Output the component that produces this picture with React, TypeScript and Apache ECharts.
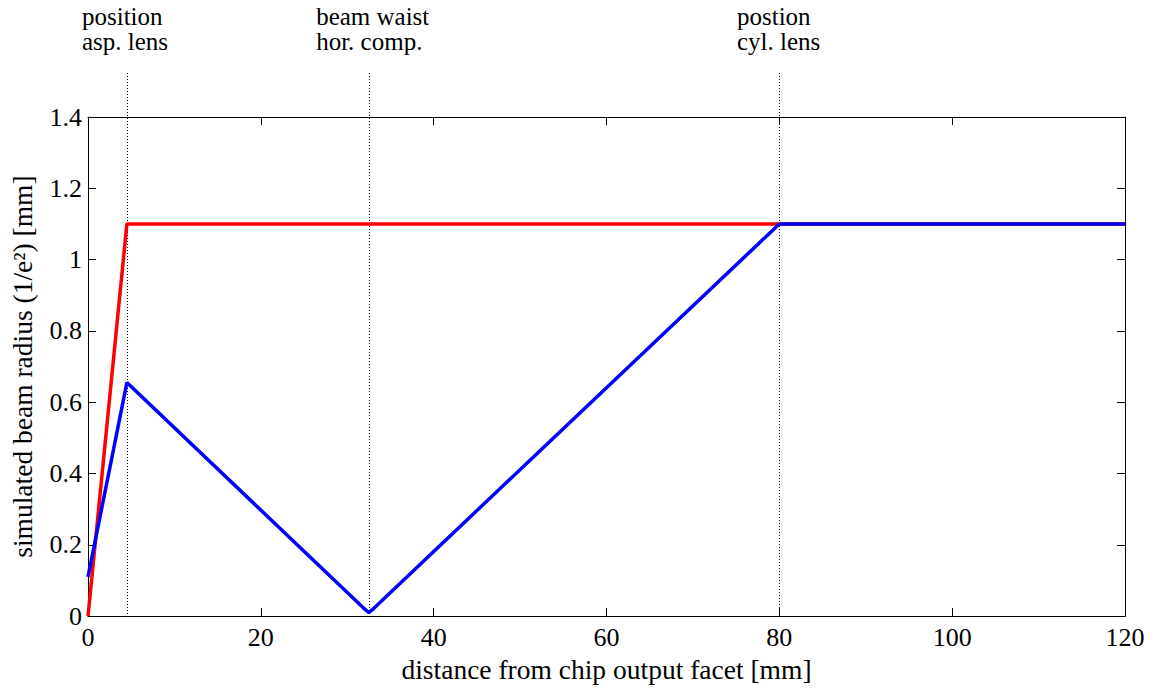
import React, { useEffect, useRef } from "react";
import * as echarts from "echarts";

// Data (mm, mm)
const redBeam: [number, number][] = [
  [0, 0],
  [4.5, 1.1],
  [80, 1.1],
  [120, 1.1],
];
const blueBeam: [number, number][] = [
  [0, 0.11],
  [4.5, 0.655],
  [32.1, 0.018],
  [32.5, 0.01],
  [32.9, 0.018],
  [80, 1.1],
  [120, 1.1],
];
const markerX = [4.5, 32.5, 80];
const markerLabels = [
  ["position", "asp. lens"],
  ["beam waist", "hor. comp."],
  ["postion", "cyl. lens"],
];
const markerLabelX = [-0.7, 26.4, 75.1];
const xName = "distance from chip output facet [mm]";
const yName = "simulated beam radius (1/e\u00B2) [mm]";

const FONT = "Liberation Serif, Times New Roman, serif";

export default function App() {
  const ref = useRef<HTMLDivElement>(null);
  useEffect(() => {
    if (!ref.current) return;
    const chart = echarts.init(ref.current, undefined, { renderer: "svg" });
    const axisCommon = {
      type: "value" as const,
      axisLine: { show: true, onZero: false, lineStyle: { color: "#000", width: 1 } },
      axisTick: { show: true, inside: true, length: 8, lineStyle: { color: "#000", width: 1 } },
      splitLine: { show: false },
    };
    chart.setOption({
      animation: false,
      backgroundColor: "#fff",
      textStyle: { fontFamily: FONT },
      grid: { left: 88, right: 34, top: 117, bottom: 65, containLabel: false },
      xAxis: [
        {
          ...axisCommon,
          min: 0,
          max: 120,
          interval: 20,
          position: "bottom",
          name: xName,
          nameLocation: "middle",
          nameGap: 33,
          nameTextStyle: { fontFamily: FONT, fontSize: 27.5, color: "#000" },
          axisLabel: { fontFamily: FONT, fontSize: 26, color: "#000", margin: 8 },
        },
        {
          ...axisCommon,
          min: 0,
          max: 120,
          interval: 20,
          position: "top",
          axisLabel: { show: false },
        },
      ],
      yAxis: [
        {
          ...axisCommon,
          min: 0,
          max: 1.4,
          interval: 0.2,
          position: "left",
          name: yName,
          nameLocation: "middle",
          nameGap: 52,
          nameTextStyle: { fontFamily: FONT, fontSize: 27.5, color: "#000" },
          axisLabel: { fontFamily: FONT, fontSize: 26, color: "#000", margin: 6 },
        },
        {
          ...axisCommon,
          min: 0,
          max: 1.4,
          interval: 0.2,
          position: "right",
          axisLabel: { show: false },
        },
      ],
      series: [
        {
          type: "line",
          data: redBeam,
          showSymbol: false,
          symbol: "none",
          lineStyle: { color: "#ff0000", width: 3.5 },
          xAxisIndex: 0,
          yAxisIndex: 0,
          z: 2,
        },
        {
          type: "line",
          data: blueBeam,
          showSymbol: false,
          symbol: "none",
          lineStyle: { color: "#0000ff", width: 3.5 },
          xAxisIndex: 0,
          yAxisIndex: 0,
          z: 3,
        },
      ],
    });

    const y0 = chart.convertToPixel({ yAxisIndex: 0 }, 0) as number;
    const yTop = (chart.convertToPixel({ yAxisIndex: 0 }, 1.4) as number) - 44;
    const graphics: any[] = [];
    markerX.forEach((mx, i) => {
      const px = Math.round(chart.convertToPixel({ xAxisIndex: 0 }, mx) as number) + 0.5;
      graphics.push({
        type: "line",
        shape: { x1: px, y1: yTop, x2: px, y2: y0 },
        style: { stroke: "#000", lineWidth: 1, lineDash: [1, 2] },
        z: 1,
      });
      const tx = chart.convertToPixel({ xAxisIndex: 0 }, markerLabelX[i]) as number;
      markerLabels[i].forEach((line, j) => {
        graphics.push({
          type: "text",
          x: tx,
          y: 4 + j * 25,
          style: {
            text: line,
            fontFamily: FONT,
            fontSize: 25,
            lineHeight: 25,
            fill: "#000",
            textAlign: "left",
            textVerticalAlign: "top",
          },
        });
      });
    });
    chart.setOption({ graphic: graphics });

    return () => chart.dispose();
  }, []);
  return (
    <div
      ref={ref}
      style={{ position: "fixed", left: 0, top: 0, width: 1159, height: 688 }}
    />
  );
}
